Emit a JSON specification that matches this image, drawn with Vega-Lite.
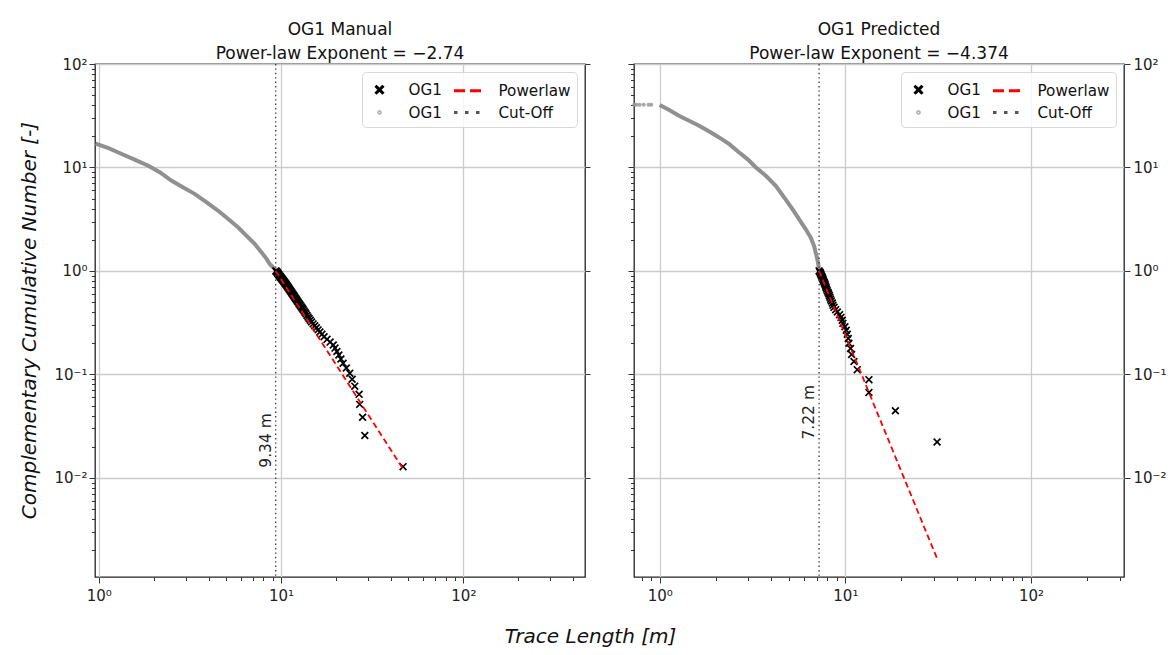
{
  "$schema": "https://vega.github.io/schema/vega-lite/v6.json",
  "background": "white",
  "padding": {"left": 18, "top": 19, "right": 5, "bottom": 5},
  "spacing": 49,
  "bounds": "flush",
  "resolve": {"scale": {"x": "independent", "y": "independent", "color": "independent", "shape": "independent", "strokeDash": "independent"}},
  "config": {
    "font": "DejaVu Sans",
    "view": {"stroke": "#222", "strokeWidth": 1.3},
    "axis": {
      "labelFont": "DejaVu Sans", "labelFontSize": 15, "labelColor": "#222",
      "labelOverlap": false, "labelBound": false, "labelFlush": false,
      "tickColor": "#333", "tickWidth": 1, "domain": false,
      "gridColor": "#cccccc", "gridWidth": 1.3,
      "titleFont": "DejaVu Sans", "titleFontSize": 20, "titleFontStyle": "italic",
      "titleFontWeight": "normal", "titleColor": "#111"
    },
    "title": {"font": "DejaVu Sans", "fontSize": 17, "fontWeight": "normal", "color": "#111", "offset": -5.5, "lineHeight": 24, "anchor": "middle"},
    "legend": {
      "title": null, "orient": "top-right", "offset": 8, "columns": 2,
      "columnPadding": 6, "rowPadding": 1, "padding": 6,
      "symbolSize": 400, "symbolStrokeWidth": 3, "symbolOpacity": 1, "labelOffset": 17.5,
      "labelFont": "DejaVu Sans", "labelFontSize": 15.2, "labelColor": "#111",
      "fillColor": "rgba(255,255,255,0.8)", "strokeColor": "#d8d8d8", "cornerRadius": 4
    }
  },
  "datasets": {
    "manual_all": [
      {"x": 0.96, "y": 17.0}, {"x": 1.13, "y": 15.4}, {"x": 1.28, "y": 13.96}, {"x": 1.55, "y": 12.05},
      {"x": 1.87, "y": 10.38}, {"x": 2.17, "y": 8.95}, {"x": 2.51, "y": 7.43}, {"x": 2.91, "y": 6.41},
      {"x": 3.37, "y": 5.53}, {"x": 3.91, "y": 4.59}, {"x": 4.52, "y": 3.81}, {"x": 5.13, "y": 3.17},
      {"x": 5.82, "y": 2.63}, {"x": 6.47, "y": 2.18}, {"x": 7.18, "y": 1.82}, {"x": 7.82, "y": 1.51},
      {"x": 8.34, "y": 1.30}, {"x": 8.68, "y": 1.16}, {"x": 9.25, "y": 1.04}, {"x": 9.34, "y": 1.0}
    ],
    "manual_fit": [
      {"x": 9.36, "y": 1.0}, {"x": 9.44, "y": 0.98718}, {"x": 9.49, "y": 0.97436}, {"x": 9.55, "y": 0.96154},
      {"x": 9.60, "y": 0.94872}, {"x": 9.65, "y": 0.9359}, {"x": 9.70, "y": 0.92308}, {"x": 9.76, "y": 0.91026},
      {"x": 9.82, "y": 0.89744}, {"x": 9.87, "y": 0.88462}, {"x": 9.94, "y": 0.87179}, {"x": 10.0, "y": 0.85897},
      {"x": 10.07, "y": 0.84615}, {"x": 10.14, "y": 0.83333}, {"x": 10.2, "y": 0.82051}, {"x": 10.28, "y": 0.80769},
      {"x": 10.35, "y": 0.79487}, {"x": 10.42, "y": 0.78205}, {"x": 10.5, "y": 0.76923}, {"x": 10.57, "y": 0.75641},
      {"x": 10.64, "y": 0.74359}, {"x": 10.71, "y": 0.73077}, {"x": 10.78, "y": 0.71795}, {"x": 10.86, "y": 0.70513},
      {"x": 10.94, "y": 0.69231}, {"x": 11.02, "y": 0.67949}, {"x": 11.1, "y": 0.66667}, {"x": 11.18, "y": 0.65385},
      {"x": 11.27, "y": 0.64103}, {"x": 11.36, "y": 0.62821}, {"x": 11.45, "y": 0.61538}, {"x": 11.54, "y": 0.60256},
      {"x": 11.64, "y": 0.58974}, {"x": 11.74, "y": 0.57692}, {"x": 11.84, "y": 0.5641}, {"x": 11.94, "y": 0.55128},
      {"x": 12.05, "y": 0.53846}, {"x": 12.16, "y": 0.52564}, {"x": 12.27, "y": 0.51282}, {"x": 12.39, "y": 0.5},
      {"x": 12.52, "y": 0.48718}, {"x": 12.65, "y": 0.47436}, {"x": 12.79, "y": 0.46154}, {"x": 12.93, "y": 0.44872},
      {"x": 13.07, "y": 0.4359}, {"x": 13.22, "y": 0.42308}, {"x": 13.38, "y": 0.41026}, {"x": 13.54, "y": 0.39744},
      {"x": 13.7, "y": 0.38462}, {"x": 13.87, "y": 0.37179}, {"x": 14.05, "y": 0.35897}, {"x": 14.25, "y": 0.34615},
      {"x": 14.46, "y": 0.33333}, {"x": 14.69, "y": 0.32051}, {"x": 14.99, "y": 0.30769}, {"x": 15.3, "y": 0.29487},
      {"x": 15.63, "y": 0.28205}, {"x": 15.97, "y": 0.26923}, {"x": 16.32, "y": 0.25641}, {"x": 16.75, "y": 0.24359},
      {"x": 17.21, "y": 0.23077}, {"x": 17.87, "y": 0.21795}, {"x": 18.58, "y": 0.20513}, {"x": 19.33, "y": 0.19231},
      {"x": 19.77, "y": 0.17949}, {"x": 20.25, "y": 0.16667}, {"x": 20.75, "y": 0.15385}, {"x": 21.29, "y": 0.14103},
      {"x": 21.9, "y": 0.12821}, {"x": 22.8, "y": 0.11538}, {"x": 23.82, "y": 0.10256}, {"x": 24.53, "y": 0.08974},
      {"x": 25.37, "y": 0.07692}, {"x": 26.8, "y": 0.0641}, {"x": 27.0, "y": 0.05128}, {"x": 28.0, "y": 0.03846},
      {"x": 28.8, "y": 0.02564}, {"x": 46.7, "y": 0.01282}
    ],
    "pred_all": [
      {"x": 0.73, "y": 40.3}, {"x": 0.75, "y": 40.3}, {"x": 0.78, "y": 40.3}, {"x": 0.82, "y": 40.3},
      {"x": 0.87, "y": 40.3}, {"x": 0.9, "y": 40.3},
      {"x": 1.0, "y": 40.1}, {"x": 1.126, "y": 35.9}, {"x": 1.27, "y": 31.6}, {"x": 1.44, "y": 28.3},
      {"x": 1.63, "y": 25.3}, {"x": 1.85, "y": 22.3}, {"x": 2.09, "y": 19.5}, {"x": 2.37, "y": 16.8},
      {"x": 2.68, "y": 13.96}, {"x": 2.97, "y": 12.05}, {"x": 3.3, "y": 10.0}, {"x": 3.73, "y": 8.31},
      {"x": 4.22, "y": 6.65}, {"x": 4.68, "y": 5.13}, {"x": 5.19, "y": 3.96}, {"x": 5.63, "y": 3.17},
      {"x": 6.11, "y": 2.54}, {"x": 6.51, "y": 2.1}, {"x": 6.78, "y": 1.75}, {"x": 7.06, "y": 1.3},
      {"x": 7.15, "y": 1.16}, {"x": 7.22, "y": 1.0}
    ],
    "pred_fit": [
      {"x": 7.22, "y": 1.0}, {"x": 7.30, "y": 0.97778}, {"x": 7.33, "y": 0.95556}, {"x": 7.37, "y": 0.93333},
      {"x": 7.41, "y": 0.91111}, {"x": 7.46, "y": 0.88889}, {"x": 7.50, "y": 0.86667}, {"x": 7.55, "y": 0.84444},
      {"x": 7.60, "y": 0.82222}, {"x": 7.64, "y": 0.8}, {"x": 7.69, "y": 0.77778}, {"x": 7.74, "y": 0.75556},
      {"x": 7.79, "y": 0.73333}, {"x": 7.83, "y": 0.71111}, {"x": 7.88, "y": 0.68889}, {"x": 7.93, "y": 0.66667},
      {"x": 7.99, "y": 0.64444}, {"x": 8.06, "y": 0.62222}, {"x": 8.13, "y": 0.6}, {"x": 8.20, "y": 0.57778},
      {"x": 8.26, "y": 0.55556}, {"x": 8.33, "y": 0.53333}, {"x": 8.40, "y": 0.51111}, {"x": 8.51, "y": 0.48889},
      {"x": 8.58, "y": 0.46667}, {"x": 8.69, "y": 0.44444}, {"x": 8.87, "y": 0.42222}, {"x": 9.05, "y": 0.4},
      {"x": 9.31, "y": 0.37778}, {"x": 9.47, "y": 0.35556}, {"x": 9.62, "y": 0.33333}, {"x": 9.70, "y": 0.31111},
      {"x": 9.95, "y": 0.28889}, {"x": 10.11, "y": 0.26667}, {"x": 10.24, "y": 0.24444}, {"x": 10.37, "y": 0.22222},
      {"x": 10.45, "y": 0.2}, {"x": 10.67, "y": 0.17778}, {"x": 10.81, "y": 0.15556}, {"x": 11.13, "y": 0.13333},
      {"x": 11.59, "y": 0.11111}, {"x": 13.4, "y": 0.08889}, {"x": 13.4, "y": 0.06667}, {"x": 18.6, "y": 0.04444},
      {"x": 31.2, "y": 0.02222}
    ],
    "powerlaw": [
      {"panel": "Manual", "x": 9.34, "y": 1.0}, {"panel": "Manual", "x": 46.7, "y": 0.0122},
      {"panel": "Predicted", "x": 7.22, "y": 1.0}, {"panel": "Predicted", "x": 31.2, "y": 0.00166}
    ],
    "cutoff": [
      {"panel": "Manual", "x": 9.34, "series": "Cut-Off", "label": "9.34 m", "ly": 0.023},
      {"panel": "Predicted", "x": 7.22, "series": "Cut-Off", "label": "7.22 m", "ly": 0.043}
    ]
  },
  "hconcat": [
    {
      "width": 490, "height": 513,
      "title": {"text": ["OG1 Manual", "Power-law Exponent = −2.74"]},
      "resolve": {"axis": {"x": "independent", "y": "independent"}},
      "layer": [
        {
          "data": {"name": "manual_all"},
          "mark": {"type": "line", "color": "#8a8a8a", "strokeWidth": 4, "opacity": 0.95},
          "encoding": {
            "x": {"field": "x", "type": "quantitative",
              "scale": {"type": "log", "domain": [0.953, 465], "nice": false},
              "axis": {"orient": "bottom",
                "values": [1,2,3,4,5,6,7,8,9,10,20,30,40,50,60,70,80,90,100,200,300,400],
                "labelExpr": "datum.value == 1 ? '10⁰' : datum.value == 10 ? '10¹' : datum.value == 100 ? '10²' : ''",
                "tickSize": {"condition": {"test": "indexof([1,10,100], datum.value) >= 0", "value": 6}, "value": 3.5},
                "gridOpacity": {"condition": {"test": "indexof([1,10,100], datum.value) >= 0", "value": 1}, "value": 0},
                "labelPadding": 5,
                "title": "Trace Length [m]", "titleX": 495, "titleY": 59, "titleAlign": "center", "titleBaseline": "middle"}},
            "y": {"field": "y", "type": "quantitative",
              "scale": {"type": "log", "domain": [0.0011, 100], "nice": false},
              "axis": {"orient": "left",
                "values": [0.002,0.003,0.004,0.005,0.006,0.007,0.008,0.009,0.01,0.02,0.03,0.04,0.05,0.06,0.07,0.08,0.09,0.1,0.2,0.3,0.4,0.5,0.6,0.7,0.8,0.9,1,2,3,4,5,6,7,8,9,10,20,30,40,50,60,70,80,90,100],
                "labelExpr": "datum.value == 0.01 ? '10⁻²' : datum.value == 0.1 ? '10⁻¹' : datum.value == 1 ? '10⁰' : datum.value == 10 ? '10¹' : datum.value == 100 ? '10²' : ''",
                "tickSize": {"condition": {"test": "indexof([0.01,0.1,1,10,100], datum.value) >= 0", "value": 6}, "value": 3.5},
                "gridOpacity": {"condition": {"test": "indexof([0.01,0.1,1,10,100], datum.value) >= 0", "value": 1}, "value": 0},
                "labelPadding": 2,
                "title": "Complementary Cumulative Number [-]", "titleX": -66, "titleY": 256, "titleAngle": 270, "titleAlign": "center", "titleBaseline": "middle"}}
          }
        },
        {
          "data": {"name": "manual_fit"},
          "mark": {"type": "point", "shape": "M-1,-1L1,1M-1,1L1,-1", "filled": false, "stroke": "#000", "strokeWidth": 1.7, "size": 46, "opacity": 1},
          "encoding": {
            "x": {"field": "x", "type": "quantitative", "axis": null},
            "y": {"field": "y", "type": "quantitative",
              "axis": {"orient": "right", "values": [0.01,0.1,1,10,100], "labels": false, "grid": false, "tickSize": 5, "title": null}}
          }
        },
        {
          "data": {"name": "powerlaw"},
          "transform": [{"filter": "datum.panel == 'Manual'"}],
          "mark": {"type": "line", "color": "#ff0000", "strokeDash": [6, 3.5], "strokeWidth": 1.8},
          "encoding": {
            "x": {"field": "x", "type": "quantitative", "axis": null},
            "y": {"field": "y", "type": "quantitative", "axis": null}
          }
        },
        {
          "data": {"name": "cutoff"},
          "transform": [{"filter": "datum.panel == 'Manual'"}],
          "mark": {"type": "rule", "color": "#444", "strokeDash": [1.4, 3], "strokeWidth": 1.4},
          "encoding": {
            "x": {"field": "x", "type": "quantitative", "axis": null}
          }
        },
        {
          "data": {"name": "cutoff"},
          "transform": [{"filter": "datum.panel == 'Manual'"}],
          "mark": {"type": "point", "filled": false, "opacity": 0},
          "encoding": {
            "x": {"field": "x", "type": "quantitative", "axis": null},
            "color": {"field": "series", "type": "nominal",
              "scale": {"domain": ["OG1 fit", "OG1 all", "Powerlaw", "Cut-Off"], "range": ["#000000", "#b8b8b8", "#ff0000", "#555555"]},
              "legend": {"labelExpr": "datum.label == 'Powerlaw' || datum.label == 'Cut-Off' ? datum.label : 'OG1'"}},
            "shape": {"field": "series", "type": "nominal",
              "scale": {"domain": ["OG1 fit", "OG1 all", "Powerlaw", "Cut-Off"],
                "range": ["M-1.55,0M1.55,0M-0.4,-0.4L0.4,0.4M-0.4,0.4L0.4,-0.4", "M-1.55,0M1.55,0M-0.09,0A0.09,0.09,0,1,1,0.09,0A0.09,0.09,0,1,1,-0.09,0Z", "M-1.55,0L1.55,0", "M-1.55,0L1.55,0"]},
              "legend": {"labelExpr": "datum.label == 'Powerlaw' || datum.label == 'Cut-Off' ? datum.label : 'OG1'"}},
            "strokeDash": {"field": "series", "type": "nominal",
              "scale": {"domain": ["OG1 fit", "OG1 all", "Powerlaw", "Cut-Off"], "range": [[1, 0], [1, 0], [11, 5], [3.5, 7.5]]},
              "legend": {"labelExpr": "datum.label == 'Powerlaw' || datum.label == 'Cut-Off' ? datum.label : 'OG1'"}}
          }
        },
        {
          "data": {"name": "cutoff"},
          "transform": [{"filter": "datum.panel == 'Manual'"}],
          "mark": {"type": "text", "angle": 270, "align": "center", "baseline": "bottom", "dy": -2, "fontSize": 15.5, "font": "DejaVu Sans", "color": "#222"},
          "encoding": {
            "x": {"field": "x", "type": "quantitative", "axis": null},
            "y": {"field": "ly", "type": "quantitative", "axis": null},
            "text": {"field": "label"}
          }
        }
      ]
    },
    {
      "width": 490, "height": 513,
      "title": {"text": ["OG1 Predicted", "Power-law Exponent = −4.374"]},
      "resolve": {"axis": {"x": "independent", "y": "independent"}},
      "layer": [
        {
          "data": {"name": "pred_all"},
          "transform": [{"filter": "datum.x >= 1"}],
          "mark": {"type": "line", "color": "#8a8a8a", "strokeWidth": 4, "opacity": 0.95},
          "encoding": {
            "x": {"field": "x", "type": "quantitative",
              "scale": {"type": "log", "domain": [0.727, 317], "nice": false},
              "axis": {"orient": "bottom",
                "values": [0.8,0.9,1,2,3,4,5,6,7,8,9,10,20,30,40,50,60,70,80,90,100,200,300],
                "labelExpr": "datum.value == 1 ? '10⁰' : datum.value == 10 ? '10¹' : datum.value == 100 ? '10²' : ''",
                "tickSize": {"condition": {"test": "indexof([1,10,100], datum.value) >= 0", "value": 6}, "value": 3.5},
                "gridOpacity": {"condition": {"test": "indexof([1,10,100], datum.value) >= 0", "value": 1}, "value": 0},
                "labelPadding": 5, "title": null}},
            "y": {"field": "y", "type": "quantitative",
              "scale": {"type": "log", "domain": [0.0011, 100], "nice": false},
              "axis": {"orient": "left",
                "values": [0.002,0.003,0.004,0.005,0.006,0.007,0.008,0.009,0.01,0.02,0.03,0.04,0.05,0.06,0.07,0.08,0.09,0.1,0.2,0.3,0.4,0.5,0.6,0.7,0.8,0.9,1,2,3,4,5,6,7,8,9,10,20,30,40,50,60,70,80,90,100],
                "labels": false,
                "tickSize": {"condition": {"test": "indexof([0.01,0.1,1,10,100], datum.value) >= 0", "value": 6}, "value": 3.5},
                "gridOpacity": {"condition": {"test": "indexof([0.01,0.1,1,10,100], datum.value) >= 0", "value": 1}, "value": 0},
                "title": null}}
          }
        },
        {
          "data": {"name": "pred_all"},
          "transform": [{"filter": "datum.x < 1"}],
          "mark": {"type": "point", "shape": "circle", "filled": true, "color": "#999999", "size": 16, "opacity": 0.85},
          "encoding": {
            "x": {"field": "x", "type": "quantitative", "axis": null},
            "y": {"field": "y", "type": "quantitative", "axis": null}
          }
        },
        {
          "data": {"name": "pred_fit"},
          "mark": {"type": "point", "shape": "M-1,-1L1,1M-1,1L1,-1", "filled": false, "stroke": "#000", "strokeWidth": 1.7, "size": 46, "opacity": 1},
          "encoding": {
            "x": {"field": "x", "type": "quantitative", "axis": null},
            "y": {"field": "y", "type": "quantitative",
              "axis": {"orient": "right", "values": [0.01,0.1,1,10,100],
                "labelExpr": "datum.value == 0.01 ? '10⁻²' : datum.value == 0.1 ? '10⁻¹' : datum.value == 1 ? '10⁰' : datum.value == 10 ? '10¹' : datum.value == 100 ? '10²' : ''",
                "grid": false, "tickSize": 6, "labelPadding": 3, "title": null}}
          }
        },
        {
          "data": {"name": "powerlaw"},
          "transform": [{"filter": "datum.panel == 'Predicted'"}],
          "mark": {"type": "line", "color": "#ff0000", "strokeDash": [6, 3.5], "strokeWidth": 1.8},
          "encoding": {
            "x": {"field": "x", "type": "quantitative", "axis": null},
            "y": {"field": "y", "type": "quantitative", "axis": null}
          }
        },
        {
          "data": {"name": "cutoff"},
          "transform": [{"filter": "datum.panel == 'Predicted'"}],
          "mark": {"type": "rule", "color": "#444", "strokeDash": [1.4, 3], "strokeWidth": 1.4},
          "encoding": {
            "x": {"field": "x", "type": "quantitative", "axis": null}
          }
        },
        {
          "data": {"name": "cutoff"},
          "transform": [{"filter": "datum.panel == 'Predicted'"}],
          "mark": {"type": "point", "filled": false, "opacity": 0},
          "encoding": {
            "x": {"field": "x", "type": "quantitative", "axis": null},
            "color": {"field": "series", "type": "nominal",
              "scale": {"domain": ["OG1 fit", "OG1 all", "Powerlaw", "Cut-Off"], "range": ["#000000", "#b8b8b8", "#ff0000", "#555555"]},
              "legend": {"labelExpr": "datum.label == 'Powerlaw' || datum.label == 'Cut-Off' ? datum.label : 'OG1'"}},
            "shape": {"field": "series", "type": "nominal",
              "scale": {"domain": ["OG1 fit", "OG1 all", "Powerlaw", "Cut-Off"],
                "range": ["M-1.55,0M1.55,0M-0.4,-0.4L0.4,0.4M-0.4,0.4L0.4,-0.4", "M-1.55,0M1.55,0M-0.09,0A0.09,0.09,0,1,1,0.09,0A0.09,0.09,0,1,1,-0.09,0Z", "M-1.55,0L1.55,0", "M-1.55,0L1.55,0"]},
              "legend": {"labelExpr": "datum.label == 'Powerlaw' || datum.label == 'Cut-Off' ? datum.label : 'OG1'"}},
            "strokeDash": {"field": "series", "type": "nominal",
              "scale": {"domain": ["OG1 fit", "OG1 all", "Powerlaw", "Cut-Off"], "range": [[1, 0], [1, 0], [11, 5], [3.5, 7.5]]},
              "legend": {"labelExpr": "datum.label == 'Powerlaw' || datum.label == 'Cut-Off' ? datum.label : 'OG1'"}}
          }
        },
        {
          "data": {"name": "cutoff"},
          "transform": [{"filter": "datum.panel == 'Predicted'"}],
          "mark": {"type": "text", "angle": 270, "align": "center", "baseline": "bottom", "dy": -2, "fontSize": 15.5, "font": "DejaVu Sans", "color": "#222"},
          "encoding": {
            "x": {"field": "x", "type": "quantitative", "axis": null},
            "y": {"field": "ly", "type": "quantitative", "axis": null},
            "text": {"field": "label"}
          }
        }
      ]
    }
  ]
}
